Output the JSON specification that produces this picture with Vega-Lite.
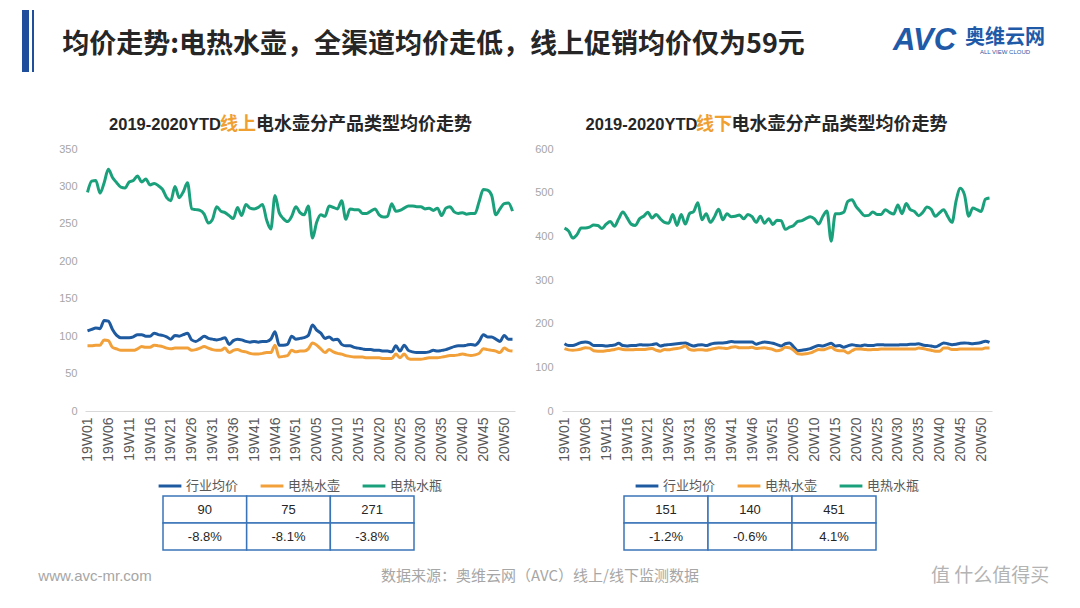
{
  "$schema": "https://vega.github.io/schema/vega-lite/v6.json",
  "padding": {"left": 22, "top": 10, "right": 0, "bottom": 0},
  "background": "white",
  "config": {
    "view": {"stroke": null},
    "font": "Noto Sans CJK SC",
    "legend": {"layout": {"anchor": "middle"}}
  },
  "datasets": {
    "on": [
      {"w":"19W01","行业均价":107,"电热水壶":87,"电热水瓶":292},
      {"w":"19W02","行业均价":109,"电热水壶":87,"电热水瓶":307},
      {"w":"19W03","行业均价":111,"电热水壶":88,"电热水瓶":308},
      {"w":"19W04","行业均价":110,"电热水壶":88,"电热水瓶":291},
      {"w":"19W05","行业均价":121,"电热水壶":95,"电热水瓶":305},
      {"w":"19W06","行业均价":120,"电热水壶":94,"电热水瓶":323},
      {"w":"19W07","行业均价":109,"电热水壶":85,"电热水瓶":312},
      {"w":"19W08","行业均价":101,"电热水壶":83,"电热水瓶":305},
      {"w":"19W09","行业均价":98,"电热水壶":81,"电热水瓶":299},
      {"w":"19W10","行业均价":98,"电热水壶":81,"电热水瓶":298},
      {"w":"19W11","行业均价":98,"电热水壶":81,"电热水瓶":306},
      {"w":"19W12","行业均价":99,"电热水壶":81,"电热水瓶":308},
      {"w":"19W13","行业均价":102,"电热水壶":83,"电热水瓶":314},
      {"w":"19W14","行业均价":102,"电热水壶":86,"电热水瓶":306},
      {"w":"19W15","行业均价":100,"电热水壶":85,"电热水瓶":310},
      {"w":"19W16","行业均价":100,"电热水壶":85,"电热水瓶":302},
      {"w":"19W17","行业均价":104,"电热水壶":88,"电热水瓶":304},
      {"w":"19W18","行业均价":102,"电热水壶":87,"电热水瓶":301},
      {"w":"19W19","行业均价":101,"电热水壶":86,"电热水瓶":296},
      {"w":"19W20","行业均价":99,"电热水壶":84,"电热水瓶":285},
      {"w":"19W21","行业均价":96,"电热水壶":83,"电热水瓶":281},
      {"w":"19W22","行业均价":101,"电热水壶":84,"电热水瓶":300},
      {"w":"19W23","行业均价":100,"电热水壶":84,"电热水瓶":285},
      {"w":"19W24","行业均价":102,"电热水壶":84,"电热水瓶":293},
      {"w":"19W25","行业均价":104,"电热水壶":84,"电热水瓶":305},
      {"w":"19W26","行业均价":95,"电热水壶":81,"电热水瓶":270},
      {"w":"19W27","行业均价":93,"电热水壶":82,"电热水瓶":269},
      {"w":"19W28","行业均价":96,"电热水壶":84,"电热水瓶":268},
      {"w":"19W29","行业均价":100,"电热水壶":86,"电热水瓶":263},
      {"w":"19W30","行业均价":97,"电热水壶":84,"电热水瓶":251},
      {"w":"19W31","行业均价":96,"电热水壶":82,"电热水瓶":256},
      {"w":"19W32","行业均价":95,"电热水壶":81,"电热水瓶":273},
      {"w":"19W33","行业均价":96,"电热水壶":81,"电热水瓶":267},
      {"w":"19W34","行业均价":98,"电热水壶":84,"电热水瓶":265},
      {"w":"19W35","行业均价":89,"电热水壶":78,"电热水瓶":261},
      {"w":"19W36","行业均价":94,"电热水壶":81,"电热水瓶":257},
      {"w":"19W37","行业均价":96,"电热水壶":82,"电热水瓶":272},
      {"w":"19W38","行业均价":95,"电热水壶":80,"电热水瓶":261},
      {"w":"19W39","行业均价":93,"电热水壶":79,"电热水瓶":276},
      {"w":"19W40","行业均价":92,"电热水壶":77,"电热水瓶":271},
      {"w":"19W41","行业均价":93,"电热水壶":76,"电热水瓶":270},
      {"w":"19W42","行业均价":92,"电热水壶":76,"电热水瓶":272},
      {"w":"19W43","行业均价":93,"电热水壶":77,"电热水瓶":276},
      {"w":"19W44","行业均价":93,"电热水壶":78,"电热水瓶":255},
      {"w":"19W45","行业均价":96,"电热水壶":78,"电热水瓶":243},
      {"w":"19W46","行业均价":106,"电热水壶":88,"电热水瓶":288},
      {"w":"19W47","行业均价":88,"电热水壶":72,"电热水瓶":265},
      {"w":"19W48","行业均价":88,"电热水壶":73,"电热水瓶":257},
      {"w":"19W49","行业均价":89,"电热水壶":74,"电热水瓶":253},
      {"w":"19W50","行业均价":100,"电热水壶":81,"电热水瓶":260},
      {"w":"19W51","行业均价":96,"电热水壶":79,"电热水瓶":273},
      {"w":"20W01","行业均价":97,"电热水壶":80,"电热水瓶":265},
      {"w":"20W02","行业均价":98,"电热水壶":80,"电热水瓶":262},
      {"w":"20W03","行业均价":101,"电热水壶":83,"电热水瓶":274},
      {"w":"20W04","行业均价":115,"电热水壶":91,"电热水瓶":231},
      {"w":"20W05","行业均价":108,"电热水壶":88,"电热水瓶":252},
      {"w":"20W06","行业均价":104,"电热水壶":83,"电热水瓶":262},
      {"w":"20W07","行业均价":97,"电热水壶":78,"电热水瓶":260},
      {"w":"20W08","行业均价":99,"电热水壶":82,"电热水瓶":274},
      {"w":"20W09","行业均价":95,"电热水壶":79,"电热水瓶":272},
      {"w":"20W10","行业均价":96,"电热水壶":77,"电热水瓶":270},
      {"w":"20W11","行业均价":89,"电热水壶":76,"电热水瓶":281},
      {"w":"20W12","行业均价":87,"电热水壶":74,"电热水瓶":256},
      {"w":"20W13","行业均价":87,"电热水壶":73,"电热水瓶":270},
      {"w":"20W14","行业均价":85,"电热水壶":72,"电热水瓶":269},
      {"w":"20W15","行业均价":84,"电热水壶":72,"电热水瓶":269},
      {"w":"20W16","行业均价":83,"电热水壶":72,"电热水瓶":264},
      {"w":"20W17","行业均价":82,"电热水壶":71,"电热水瓶":264},
      {"w":"20W18","行业均价":82,"电热水壶":71,"电热水瓶":267},
      {"w":"20W19","行业均价":81,"电热水壶":71,"电热水瓶":270},
      {"w":"20W20","行业均价":81,"电热水壶":71,"电热水瓶":262},
      {"w":"20W21","行业均价":80,"电热水壶":70,"电热水瓶":259},
      {"w":"20W22","行业均价":80,"电热水壶":70,"电热水瓶":260},
      {"w":"20W23","行业均价":79,"电热水壶":70,"电热水瓶":277},
      {"w":"20W24","行业均价":87,"电热水壶":76,"电热水瓶":267},
      {"w":"20W25","行业均价":80,"电热水壶":71,"电热水瓶":268},
      {"w":"20W26","行业均价":88,"电热水壶":76,"电热水瓶":271},
      {"w":"20W27","行业均价":81,"电热水壶":70,"电热水瓶":274},
      {"w":"20W28","行业均价":79,"电热水壶":69,"电热水瓶":274},
      {"w":"20W29","行业均价":78,"电热水壶":69,"电热水瓶":273},
      {"w":"20W30","行业均价":78,"电热水壶":69,"电热水瓶":273},
      {"w":"20W31","行业均价":78,"电热水壶":70,"电热水瓶":270},
      {"w":"20W32","行业均价":79,"电热水壶":71,"电热水瓶":271},
      {"w":"20W33","行业均价":81,"电热水壶":71,"电热水瓶":268},
      {"w":"20W34","行业均价":80,"电热水壶":71,"电热水瓶":271},
      {"w":"20W35","行业均价":81,"电热水壶":72,"电热水瓶":261},
      {"w":"20W36","行业均价":82,"电热水壶":73,"电热水瓶":271},
      {"w":"20W37","行业均价":84,"电热水壶":74,"电热水瓶":273},
      {"w":"20W38","行业均价":86,"电热水壶":74,"电热水瓶":266},
      {"w":"20W39","行业均价":87,"电热水壶":75,"电热水瓶":264},
      {"w":"20W40","行业均价":87,"电热水壶":76,"电热水瓶":265},
      {"w":"20W41","行业均价":88,"电热水壶":75,"电热水瓶":263},
      {"w":"20W42","行业均价":89,"电热水壶":74,"电热水瓶":264},
      {"w":"20W43","行业均价":88,"电热水壶":75,"电热水瓶":264},
      {"w":"20W44","行业均价":93,"电热水壶":77,"电热水瓶":280},
      {"w":"20W45","行业均价":102,"电热水壶":83,"电热水瓶":296},
      {"w":"20W46","行业均价":99,"电热水壶":82,"电热水瓶":295},
      {"w":"20W47","行业均价":99,"电热水壶":81,"电热水瓶":288},
      {"w":"20W48","行业均价":96,"电热水壶":80,"电热水瓶":262},
      {"w":"20W49","行业均价":93,"电热水壶":78,"电热水瓶":270},
      {"w":"20W50","行业均价":101,"电热水壶":84,"电热水瓶":277},
      {"w":"20W51","行业均价":96,"电热水壶":81,"电热水瓶":278},
      {"w":"20W52","行业均价":96,"电热水壶":80,"电热水瓶":267}
    ],
    "off": [
      {"w":"19W01","行业均价":154,"电热水壶":143,"电热水瓶":419},
      {"w":"19W02","行业均价":150,"电热水壶":140,"电热水瓶":412},
      {"w":"19W03","行业均价":150,"电热水壶":139,"电热水瓶":396},
      {"w":"19W04","行业均价":153,"电热水壶":140,"电热水瓶":404},
      {"w":"19W05","行业均价":157,"电热水壶":142,"电热水瓶":419},
      {"w":"19W06","行业均价":158,"电热水壶":145,"电热水瓶":419},
      {"w":"19W07","行业均价":156,"电热水壶":144,"电热水瓶":421},
      {"w":"19W08","行业均价":150,"电热水壶":138,"电热水瓶":426},
      {"w":"19W09","行业均价":150,"电热水壶":137,"电热水瓶":425},
      {"w":"19W10","行业均价":150,"电热水壶":137,"电热水瓶":418},
      {"w":"19W11","行业均价":149,"电热水壶":138,"电热水瓶":428},
      {"w":"19W12","行业均价":150,"电热水壶":139,"电热水瓶":434},
      {"w":"19W13","行业均价":151,"电热水壶":141,"电热水瓶":423},
      {"w":"19W14","行业均价":155,"电热水壶":143,"电热水瓶":440},
      {"w":"19W15","行业均价":150,"电热水壶":141,"电热水瓶":456},
      {"w":"19W16","行业均价":149,"电热水壶":140,"电热水瓶":443},
      {"w":"19W17","行业均价":150,"电热水壶":140,"电热水瓶":428},
      {"w":"19W18","行业均价":150,"电热水壶":141,"电热水瓶":425},
      {"w":"19W19","行业均价":152,"电热水壶":141,"电热水瓶":440},
      {"w":"19W20","行业均价":151,"电热水壶":141,"电热水瓶":446},
      {"w":"19W21","行业均价":151,"电热水壶":142,"电热水瓶":455},
      {"w":"19W22","行业均价":152,"电热水壶":143,"电热水瓶":442},
      {"w":"19W23","行业均价":154,"电热水壶":139,"电热水瓶":450},
      {"w":"19W24","行业均价":149,"电热水壶":137,"电热水瓶":440},
      {"w":"19W25","行业均价":151,"电热水壶":141,"电热水瓶":432},
      {"w":"19W26","行业均价":152,"电热水壶":140,"电热水瓶":430},
      {"w":"19W27","行业均价":153,"电热水壶":142,"电热水瓶":450},
      {"w":"19W28","行业均价":154,"电热水壶":143,"电热水瓶":425},
      {"w":"19W29","行业均价":155,"电热水壶":145,"电热水瓶":450},
      {"w":"19W30","行业均价":156,"电热水壶":149,"电热水瓶":428},
      {"w":"19W31","行业均价":152,"电热水壶":141,"电热水瓶":452},
      {"w":"19W32","行业均价":149,"电热水壶":139,"电热水瓶":457},
      {"w":"19W33","行业均价":151,"电热水壶":140,"电热水瓶":477},
      {"w":"19W34","行业均价":152,"电热水壶":140,"电热水瓶":438},
      {"w":"19W35","行业均价":150,"电热水壶":139,"电热水瓶":452},
      {"w":"19W36","行业均价":153,"电热水壶":141,"电热水瓶":432},
      {"w":"19W37","行业均价":155,"电热水壶":143,"电热水瓶":445},
      {"w":"19W38","行业均价":156,"电热水壶":145,"电热水瓶":462},
      {"w":"19W39","行业均价":156,"电热水壶":144,"电热水瓶":438},
      {"w":"19W40","行业均价":157,"电热水壶":143,"电热水瓶":452},
      {"w":"19W41","行业均价":159,"电热水壶":146,"电热水瓶":445},
      {"w":"19W42","行业均价":158,"电热水壶":147,"电热水瓶":446},
      {"w":"19W43","行业均价":158,"电热水壶":145,"电热水瓶":449},
      {"w":"19W44","行业均价":158,"电热水壶":145,"电热水瓶":440},
      {"w":"19W45","行业均价":158,"电热水壶":145,"电热水瓶":450},
      {"w":"19W46","行业均价":158,"电热水壶":146,"电热水瓶":445},
      {"w":"19W47","行业均价":153,"电热水壶":143,"电热水瓶":432},
      {"w":"19W48","行业均价":156,"电热水壶":144,"电热水瓶":446},
      {"w":"19W49","行业均价":158,"电热水壶":145,"电热水瓶":430},
      {"w":"19W50","行业均价":157,"电热水壶":143,"电热水瓶":440},
      {"w":"19W51","行业均价":155,"电热水壶":141,"电热水瓶":427},
      {"w":"20W01","行业均价":152,"电热水壶":138,"电热水瓶":437},
      {"w":"20W02","行业均价":149,"电热水壶":140,"电热水瓶":436},
      {"w":"20W03","行业均价":154,"电热水壶":146,"电热水瓶":416},
      {"w":"20W04","行业均价":156,"电热水壶":145,"电热水瓶":421},
      {"w":"20W05","行业均价":147,"电热水壶":139,"电热水瓶":425},
      {"w":"20W06","行业均价":138,"电热水壶":131,"电热水瓶":434},
      {"w":"20W07","行业均价":139,"电热水壶":130,"电热水瓶":436},
      {"w":"20W08","行业均价":141,"电热水壶":131,"电热水瓶":441},
      {"w":"20W09","行业均价":143,"电热水壶":133,"电热水瓶":445},
      {"w":"20W10","行业均价":147,"电热水壶":137,"电热水瓶":440},
      {"w":"20W11","行业均价":150,"电热水壶":141,"电热水瓶":428},
      {"w":"20W12","行业均价":149,"电热水壶":140,"电热水瓶":446},
      {"w":"20W13","行业均价":152,"电热水壶":143,"电热水瓶":458},
      {"w":"20W14","行业均价":155,"电热水壶":146,"电热水瓶":389},
      {"w":"20W15","行业均价":149,"电热水壶":140,"电热水瓶":452},
      {"w":"20W16","行业均价":150,"电热水壶":138,"电热水瓶":452},
      {"w":"20W17","行业均价":146,"电热水壶":138,"电热水瓶":455},
      {"w":"20W18","行业均价":149,"电热水壶":133,"电热水瓶":480},
      {"w":"20W19","行业均价":152,"电热水壶":138,"电热水瓶":484},
      {"w":"20W20","行业均价":150,"电热水壶":142,"电热水瓶":468},
      {"w":"20W21","行业均价":149,"电热水壶":142,"电热水瓶":457},
      {"w":"20W22","行业均价":151,"电热水壶":141,"电热水瓶":447},
      {"w":"20W23","行业均价":150,"电热水壶":140,"电热水瓶":448},
      {"w":"20W24","行业均价":150,"电热水壶":141,"电热水瓶":456},
      {"w":"20W25","行业均价":152,"电热水壶":141,"电热水瓶":450},
      {"w":"20W26","行业均价":152,"电热水壶":142,"电热水瓶":450},
      {"w":"20W27","行业均价":151,"电热水壶":142,"电热水瓶":461},
      {"w":"20W28","行业均价":151,"电热水壶":142,"电热水瓶":455},
      {"w":"20W29","行业均价":151,"电热水壶":142,"电热水瓶":451},
      {"w":"20W30","行业均价":151,"电热水壶":142,"电热水瓶":472},
      {"w":"20W31","行业均价":152,"电热水壶":142,"电热水瓶":452},
      {"w":"20W32","行业均价":152,"电热水壶":142,"电热水瓶":475},
      {"w":"20W33","行业均价":153,"电热水壶":142,"电热水瓶":461},
      {"w":"20W34","行业均价":153,"电热水壶":142,"电热水瓶":457},
      {"w":"20W35","行业均价":154,"电热水壶":144,"电热水瓶":447},
      {"w":"20W36","行业均价":151,"电热水壶":143,"电热水瓶":455},
      {"w":"20W37","行业均价":150,"电热水壶":141,"电热水瓶":467},
      {"w":"20W38","行业均价":149,"电热水壶":139,"电热水瓶":462},
      {"w":"20W39","行业均价":147,"电热水壶":137,"电热水瓶":446},
      {"w":"20W40","行业均价":151,"电热水壶":137,"电热水瓶":454},
      {"w":"20W41","行业均价":156,"电热水壶":144,"电热水瓶":461},
      {"w":"20W42","行业均价":154,"电热水壶":144,"电热水瓶":445},
      {"w":"20W43","行业均价":152,"电热水壶":141,"电热水瓶":432},
      {"w":"20W44","行业均价":153,"电热水壶":141,"电热水瓶":482},
      {"w":"20W45","行业均价":155,"电热水壶":142,"电热水瓶":510},
      {"w":"20W46","行业均价":156,"电热水壶":142,"电热水瓶":495},
      {"w":"20W47","行业均价":155,"电热水壶":142,"电热水瓶":446},
      {"w":"20W48","行业均价":154,"电热水壶":142,"电热水瓶":465},
      {"w":"20W49","行业均价":155,"电热水壶":142,"电热水瓶":461},
      {"w":"20W50","行业均价":157,"电热水壶":142,"电热水瓶":457},
      {"w":"20W51","行业均价":160,"电热水壶":144,"电热水瓶":485},
      {"w":"20W52","行业均价":157,"电热水壶":144,"电热水瓶":488}
    ]
  },
  "bounds": "flush",
  "spacing": 0,
  "vconcat": [
    {
      "bounds": "flush",
      "spacing": 3,
      "hconcat": [
        {"width": 7, "height": 62, "view": {"fill": "#1f4e9c", "stroke": null}, "data": {"values": [{}]}, "mark": {"type": "text", "text": ""}},
        {"width": 2, "height": 62, "view": {"fill": "#1f4e9c", "stroke": null}, "data": {"values": [{}]}, "mark": {"type": "text", "text": ""}},
        {"width": 793, "height": 70, "data": {"values": [{"t": "均价走势:电热水壶，全渠道均价走低，线上促销均价仅为59元"}]},
         "mark": {"type": "text", "font": "Noto Sans CJK SC", "fontSize": 27, "fontWeight": "bold", "color": "#262626", "baseline": "middle"},
         "encoding": {"text": {"field": "t"}}},
        {"width": 120, "height": 62, "data": {"values": [{"t": "AVC"}]},
         "mark": {"type": "text", "font": "Liberation Sans", "fontSize": 31, "fontWeight": "bold", "fontStyle": "italic", "color": "#1f5aa8", "align": "left", "baseline": "middle"},
         "encoding": {"text": {"field": "t"}}},
        {"width": 98, "height": 18, "data": {"values": [{}]}, "mark": {"type": "text", "text": ""},
         "title": {"text": "奥维云网", "orient": "bottom", "anchor": "middle", "offset": 0, "font": "Noto Sans CJK SC", "fontSize": 20, "fontWeight": "bold", "color": "#1f5aa8",
                   "subtitle": "ALL VIEW CLOUD", "subtitleFont": "Liberation Sans", "subtitleFontSize": 6, "subtitleColor": "#1f5aa8", "subtitlePadding": 1}}
      ]
    },
    {"width": 1, "height": 91, "data": {"values": [{}]}, "mark": {"type": "text", "text": ""}},
    {
      "bounds": "flush",
      "spacing": 0,
      "hconcat": [
        {"width": 88, "height": 1, "data": {"values": [{}]}, "mark": {"type": "text", "text": ""}},
        {"width": 110, "height": 48, "data": {"values": [{"t": "2019-2020YTD"}]}, "mark": {"type": "text", "font": "Liberation Sans", "fontSize": 16.5, "fontWeight": "bold", "color": "#262626"}, "encoding": {"text": {"field": "t"}}},
        {"width": 36, "height": 48, "data": {"values": [{"t": "线上"}]}, "mark": {"type": "text", "fontSize": 18, "fontWeight": "bold", "color": "#f0a030"}, "encoding": {"text": {"field": "t"}}},
        {"width": 216, "height": 48, "data": {"values": [{"t": "电水壶分产品类型均价走势"}]}, "mark": {"type": "text", "fontSize": 18, "fontWeight": "bold", "color": "#262626"}, "encoding": {"text": {"field": "t"}}},
        {"width": 115, "height": 1, "data": {"values": [{}]}, "mark": {"type": "text", "text": ""}},
        {"width": 109, "height": 48, "data": {"values": [{"t": "2019-2020YTD"}]}, "mark": {"type": "text", "font": "Liberation Sans", "fontSize": 16.5, "fontWeight": "bold", "color": "#262626"}, "encoding": {"text": {"field": "t"}}},
        {"width": 36, "height": 48, "data": {"values": [{"t": "线下"}]}, "mark": {"type": "text", "fontSize": 18, "fontWeight": "bold", "color": "#f0a030"}, "encoding": {"text": {"field": "t"}}},
        {"width": 215, "height": 48, "data": {"values": [{"t": "电水壶分产品类型均价走势"}]}, "mark": {"type": "text", "fontSize": 18, "fontWeight": "bold", "color": "#262626"}, "encoding": {"text": {"field": "t"}}}
      ]
    },
    {"width": 1, "height": 48, "data": {"values": [{}]}, "mark": {"type": "text", "text": ""}},
    {
      "bounds": "flush",
      "spacing": 47,
      "hconcat": [
        {"width": 16, "height": 1, "data": {"values": [{}]}, "mark": {"type": "text", "text": ""}},
        {
          "width": 430, "height": 262,
          "data": {"name": "on"},
          "transform": [{"fold": ["行业均价", "电热水壶", "电热水瓶"], "as": ["s", "v"]}],
          "mark": {"type": "line", "strokeWidth": 3, "interpolate": "monotone"},
          "encoding": {
            "x": {"field": "w", "type": "ordinal", "sort": null, "scale": {"type": "point", "padding": 0.6},
                  "axis": {"title": null, "values": ["19W01","19W06","19W11","19W16","19W21","19W26","19W31","19W36","19W41","19W46","19W51","20W05","20W10","20W15","20W20","20W25","20W30","20W35","20W40","20W45","20W50"],
                           "labelAngle": -90, "labelFont": "Liberation Sans", "labelFontSize": 14, "labelColor": "#595959", "ticks": false, "domainColor": "#d9d9d9", "labelPadding": 6, "grid": false}},
            "y": {"field": "v", "type": "quantitative", "scale": {"domain": [0, 350]},
                  "axis": {"title": null, "values": [0,50,100,150,200,250,300,350], "domain": false, "ticks": false, "grid": false, "labelFont": "Liberation Sans", "labelColor": "#a6a6a6", "labelFontSize": 11, "labelPadding": 8}},
            "color": {"field": "s", "type": "nominal", "scale": {"domain": ["行业均价", "电热水壶", "电热水瓶"], "range": ["#1e5aa0", "#f2a03a", "#1aa17c"]},
                      "legend": {"title": null, "orient": "bottom", "direction": "horizontal", "symbolType": "stroke", "symbolStrokeWidth": 3, "symbolSize": 520, "labelFontSize": 13, "labelOffset": 3, "labelColor": "#595959", "columnPadding": 15, "offset": 11}}
          }
        },
        {
          "width": 430, "height": 262,
          "data": {"name": "off"},
          "transform": [{"fold": ["行业均价", "电热水壶", "电热水瓶"], "as": ["s", "v"]}],
          "mark": {"type": "line", "strokeWidth": 3, "interpolate": "monotone"},
          "encoding": {
            "x": {"field": "w", "type": "ordinal", "sort": null, "scale": {"type": "point", "padding": 0.6},
                  "axis": {"title": null, "values": ["19W01","19W06","19W11","19W16","19W21","19W26","19W31","19W36","19W41","19W46","19W51","20W05","20W10","20W15","20W20","20W25","20W30","20W35","20W40","20W45","20W50"],
                           "labelAngle": -90, "labelFont": "Liberation Sans", "labelFontSize": 14, "labelColor": "#595959", "ticks": false, "domainColor": "#d9d9d9", "labelPadding": 6, "grid": false}},
            "y": {"field": "v", "type": "quantitative", "scale": {"domain": [0, 600]},
                  "axis": {"title": null, "values": [0,100,200,300,400,500,600], "domain": false, "ticks": false, "grid": false, "labelFont": "Liberation Sans", "labelColor": "#a6a6a6", "labelFontSize": 11, "labelPadding": 9}},
            "color": {"field": "s", "type": "nominal", "scale": {"domain": ["行业均价", "电热水壶", "电热水瓶"], "range": ["#1e5aa0", "#f2a03a", "#1aa17c"]},
                      "legend": {"title": null, "orient": "bottom", "direction": "horizontal", "symbolType": "stroke", "symbolStrokeWidth": 3, "symbolSize": 520, "labelFontSize": 13, "labelOffset": 3, "labelColor": "#595959", "columnPadding": 15, "offset": 11}}
          }
        }
      ],
      "resolve": {"scale": {"color": "independent", "x": "independent", "y": "independent"}, "legend": {"color": "independent"}}
    },
    {"width": 1, "height": 347, "data": {"values": [{}]}, "mark": {"type": "text", "text": ""}},
    {
      "bounds": "flush",
      "spacing": 0,
      "hconcat": [
        {"width": 141, "height": 1, "data": {"values": [{}]}, "mark": {"type": "text", "text": ""}},
        {
          "width": 251, "height": 54,
          "data": {"values": [
            {"r": "1", "c": "1", "v": "90"}, {"r": "1", "c": "2", "v": "75"}, {"r": "1", "c": "3", "v": "271"},
            {"r": "2", "c": "1", "v": "-8.8%"}, {"r": "2", "c": "2", "v": "-8.1%"}, {"r": "2", "c": "3", "v": "-3.8%"}
          ]},
          "encoding": {
            "x": {"field": "c", "type": "nominal", "axis": null, "scale": {"paddingInner": 0, "paddingOuter": 0}},
            "y": {"field": "r", "type": "nominal", "axis": null, "scale": {"paddingInner": 0, "paddingOuter": 0}}
          },
          "layer": [
            {"mark": {"type": "rect", "fill": "white", "stroke": "#3a74b8", "strokeWidth": 1.5}},
            {"mark": {"type": "text", "font": "Liberation Sans", "fontSize": 13, "color": "#262626"}, "encoding": {"text": {"field": "v"}}}
          ]
        },
        {"width": 210, "height": 1, "data": {"values": [{}]}, "mark": {"type": "text", "text": ""}},
        {
          "width": 252, "height": 54,
          "data": {"values": [
            {"r": "1", "c": "1", "v": "151"}, {"r": "1", "c": "2", "v": "140"}, {"r": "1", "c": "3", "v": "451"},
            {"r": "2", "c": "1", "v": "-1.2%"}, {"r": "2", "c": "2", "v": "-0.6%"}, {"r": "2", "c": "3", "v": "4.1%"}
          ]},
          "encoding": {
            "x": {"field": "c", "type": "nominal", "axis": null, "scale": {"paddingInner": 0, "paddingOuter": 0}},
            "y": {"field": "r", "type": "nominal", "axis": null, "scale": {"paddingInner": 0, "paddingOuter": 0}}
          },
          "layer": [
            {"mark": {"type": "rect", "fill": "white", "stroke": "#3a74b8", "strokeWidth": 1.5}},
            {"mark": {"type": "text", "font": "Liberation Sans", "fontSize": 13, "color": "#262626"}, "encoding": {"text": {"field": "v"}}}
          ]
        }
      ]
    },
    {"width": 1, "height": 54, "data": {"values": [{}]}, "mark": {"type": "text", "text": ""}},
    {
      "bounds": "flush",
      "spacing": 0,
      "hconcat": [
        {"width": 8, "height": 1, "data": {"values": [{}]}, "mark": {"type": "text", "text": ""}},
        {"width": 130, "height": 52, "data": {"values": [{"t": "www.avc-mr.com"}]}, "mark": {"type": "text", "font": "Liberation Sans", "fontSize": 15, "color": "#a6a6a6"}, "encoding": {"text": {"field": "t"}}},
        {"width": 760, "height": 52, "data": {"values": [{"t": "数据来源：奥维云网（AVC）线上/线下监测数据"}]}, "mark": {"type": "text", "fontSize": 15, "color": "#a6a6a6"}, "encoding": {"text": {"field": "t"}}},
        {"width": 140, "height": 52, "data": {"values": [{"t": "值 什么值得买"}]}, "mark": {"type": "text", "fontSize": 19, "color": "#b3b3b3"}, "encoding": {"text": {"field": "t"}}}
      ]
    },
    {"width": 1, "height": 58, "data": {"values": [{}]}, "mark": {"type": "text", "text": ""}}
  ]
}
